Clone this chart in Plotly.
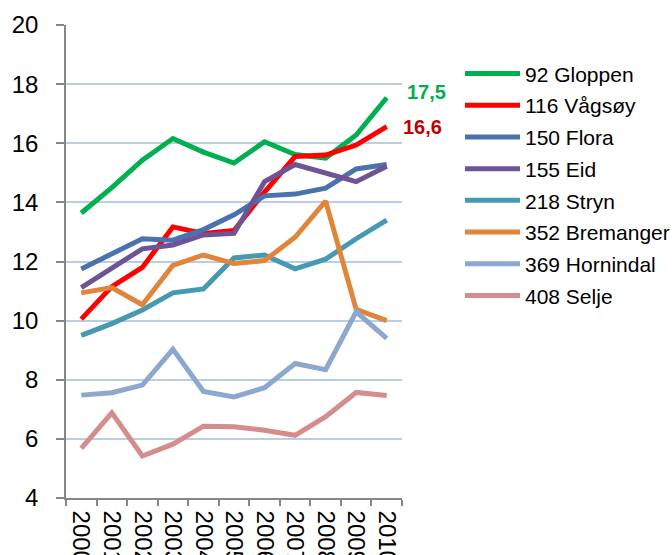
import plotly.graph_objects as go

years = ["2000", "2001", "2002", "2003", "2004", "2005", "2006", "2007", "2008", "2009", "2010"]

gloppen   = [13.64, 14.50, 15.43, 16.16, 15.70, 15.33, 16.05, 15.62, 15.50, 16.28, 17.54]
vagsoy    = [10.05, 11.15, 11.80, 13.17, 12.95, 13.05, 14.35, 15.55, 15.60, 15.94, 16.56]
flora     = [11.75, 12.26, 12.77, 12.72, 13.08, 13.58, 14.22, 14.28, 14.48, 15.13, 15.28]
eid       = [11.12, 11.78, 12.43, 12.56, 12.90, 12.95, 14.70, 15.28, 15.00, 14.70, 15.22]
stryn     = [9.50, 9.90, 10.36, 10.94, 11.07, 12.12, 12.22, 11.75, 12.08, 12.77, 13.40]
bremanger = [10.94, 11.12, 10.54, 11.87, 12.22, 11.93, 12.03, 12.82, 14.04, 10.38, 10.00]
hornindal = [7.48, 7.56, 7.82, 9.03, 7.60, 7.42, 7.73, 8.55, 8.34, 10.30, 9.40]
selje     = [5.68, 6.88, 5.42, 5.82, 6.43, 6.41, 6.29, 6.12, 6.75, 7.57, 7.47]

series_names = ["92 Gloppen", "116 Vågsøy", "150 Flora", "155 Eid", "218 Stryn",
                "352 Bremanger", "369 Hornindal", "408 Selje"]
series_values = [gloppen, vagsoy, flora, eid, stryn, bremanger, hornindal, selje]
series_colors = ["#00B050", "#FF0000", "#4A72AC", "#6E5494", "#4599B0",
                 "#E0863A", "#8DA8CF", "#D48C8D"]

y_ticks = [4, 6, 8, 10, 12, 14, 16, 18, 20]

FONT = "Liberation Sans, Arial, sans-serif"

fig = go.Figure()
for i, (name, vals, col) in enumerate(zip(series_names, series_values, series_colors)):
    fig.add_trace(go.Scatter(
        x=years, y=vals, name=name, mode="lines",
        line=dict(color=col, width=5),
        legendgroup=f"g{i}",
    ))

def fmt(v):
    return f"{v:.1f}".replace(".", ",")

fig.add_annotation(x=1.008, xref="paper", y=gloppen[-1] + 0.2, yref="y",
                   text=f"<b>{fmt(gloppen[-1])}</b>", showarrow=False,
                   xanchor="left", yanchor="middle",
                   font=dict(family=FONT, size=20, color="#00B050"))
fig.add_annotation(x=0.998, xref="paper", y=vagsoy[-1] + 0.0, yref="y",
                   text=f"<b>{fmt(vagsoy[-1])}</b>", showarrow=False,
                   xanchor="left", yanchor="middle",
                   font=dict(family=FONT, size=20, color="#C00000"))

fig.update_layout(
    width=672, height=555,
    margin=dict(l=66, r=270, t=25, b=57, autoexpand=False),
    paper_bgcolor="white", plot_bgcolor="white",
    font=dict(family=FONT, color="black"),
    showlegend=True,
    legend=dict(
        x=1.1726, xanchor="left", y=0.94, yanchor="top",
        font=dict(family=FONT, size=21, color="black"),
        itemwidth=55, tracegroupgap=1.4,
        bgcolor="rgba(0,0,0,0)", borderwidth=0,
    ),
    xaxis=dict(
        type="category", tickangle=90, range=[-0.5, len(years) - 0.5],
        tickfont=dict(family=FONT, size=24, color="black"),
        showline=True, linecolor="#868686", linewidth=1.5,
        ticks="outside", ticklen=6, tickcolor="#868686", tickwidth=1.5,
        tickson="boundaries", showgrid=False, zeroline=False,
        ticklabelstandoff=6,
        automargin=False, fixedrange=True,
    ),
    yaxis=dict(
        range=[4, 20], tickvals=y_ticks, ticktext=[str(t) for t in y_ticks],
        tickfont=dict(family=FONT, size=24, color="black"),
        showline=True, linecolor="#868686", linewidth=1.5,
        ticks="outside", ticklen=8, tickcolor="#868686", tickwidth=1.5,
        showgrid=True, gridcolor="#B9CDE5", gridwidth=1.5,
        ticklabelstandoff=13,
        zeroline=False, automargin=False, fixedrange=True,
    ),
)

fig.write_html("out.html", config={"displayModeBar": False},
               post_script="document.body.style.margin='0';document.body.style.overflow='hidden';")
